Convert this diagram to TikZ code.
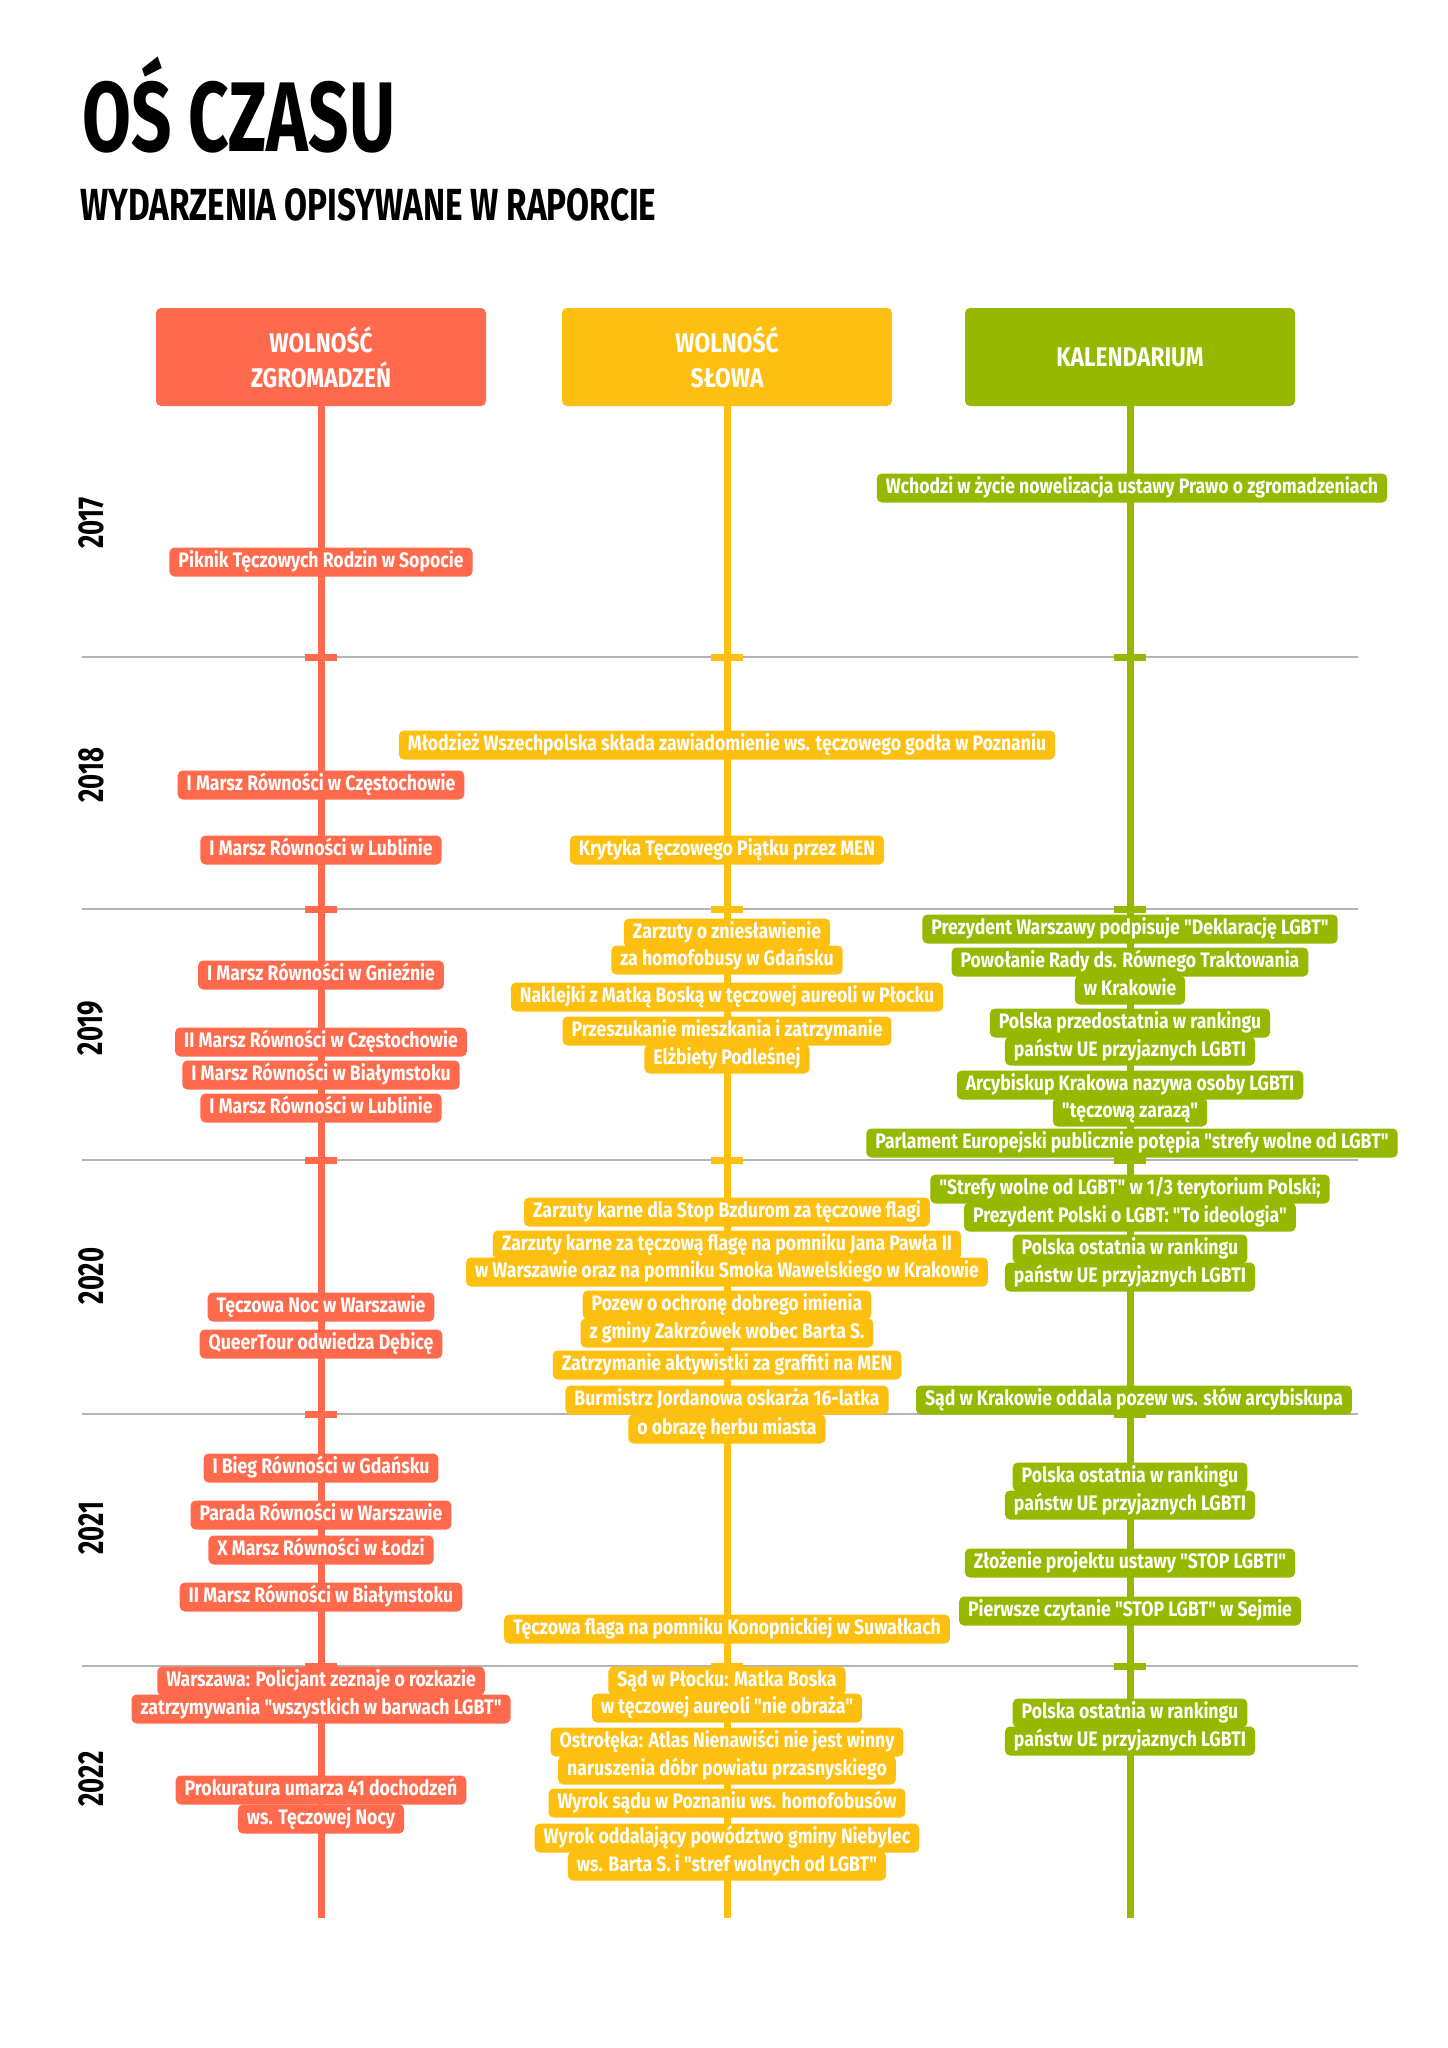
\documentclass[tikz,border=0pt]{standalone}
\usepackage{fontspec}
\newfontfamily\condf{Fira Sans}[FakeStretch=0.84]
\newfontfamily\titlef{Fira Sans}[FakeStretch=0.715]
\newfontfamily\subf{Fira Sans}[FakeStretch=0.74]
\definecolor{cred}{RGB}{255,106,77}
\definecolor{cyel}{RGB}{254,192,16}
\definecolor{cgrn}{RGB}{150,185,0}
\definecolor{csep}{RGB}{180,180,180}
\begin{document}
\begin{tikzpicture}[x=1pt,y=-1pt,
  ev/.style={fill=#1, text=white, rounded corners=5pt, inner xsep=9pt, inner ysep=0pt,
    minimum height=29pt, text height=14.5pt, text depth=4pt,
    font=\condf\bfseries\fontsize{21}{21}\selectfont},
  hdr/.style={fill=#1, text=white, rounded corners=5pt, minimum width=330pt, minimum height=98pt,
    align=center, inner sep=0pt, font=\condf\bfseries\fontsize{27}{35}\selectfont},
  tl/.style={draw=#1, line width=7pt},
  sepline/.style={draw=csep, line width=2pt},
  yr/.style={rotate=90, inner sep=0pt, font=\titlef\bfseries\fontsize{36}{36}\selectfont}]
\useasboundingbox[fill=white] (0,0) rectangle (1448,2048);

% titles
\node[anchor=base west, inner sep=0pt, font=\titlef\bfseries\fontsize{99}{99}\selectfont] (title) at (82,151) {OŚ CZASU};
\node[anchor=base west, inner sep=0pt, font=\subf\bfseries\fontsize{45}{45}\selectfont] (subtitle) at (80,220) {WYDARZENIA OPISYWANE W RAPORCIE};

% year separators
\foreach \yy in {657,909,1160,1414,1666} {
  \coordinate (sl\yy) at (82,\yy);
  \coordinate (sr\yy) at (1358,\yy);
  \draw[sepline] (sl\yy) -- (sr\yy);
}

% headers
\node[hdr=cred] (hr) at (321,357) {WOLNOŚĆ\\ZGROMADZEŃ};
\node[hdr=cyel] (hy) at (727,357) {WOLNOŚĆ\\SŁOWA};
\node[hdr=cgrn] (hg) at (1130,357) {KALENDARIUM};

% timeline axes
\coordinate (er) at (321,1918);
\coordinate (ey) at (727,1918);
\coordinate (eg) at (1130,1918);
\draw[tl=cred] (hr.south) -- (er);
\draw[tl=cyel] (hy.south) -- (ey);
\draw[tl=cgrn] (hg.south) -- (eg);

% ticks
\foreach \yy in {657,909,1160,1414,1666} {
  \fill[cred] (305,\yy-3.5) rectangle (337,\yy+3.5);
  \fill[cyel] (711,\yy-3.5) rectangle (743,\yy+3.5);
  \fill[cgrn] (1114,\yy-3.5) rectangle (1146,\yy+3.5);
}

% years
\node[yr] (y2017) at (91,523) {2017};
\node[yr] (y2018) at (91,775) {2018};
\node[yr] (y2019) at (91,1028) {2019};
\node[yr] (y2020) at (91,1276) {2020};
\node[yr] (y2021) at (91,1528) {2021};
\node[yr] (y2022) at (91,1779) {2022};

% red column
\node[ev=cred] (r1) at (321,562) {Piknik Tęczowych Rodzin w Sopocie};
\node[ev=cred] (r2) at (321,785) {I Marsz Równości w Częstochowie};
\node[ev=cred] (r3) at (321,850) {I Marsz Równości w Lublinie};
\node[ev=cred] (r4) at (321,975) {I Marsz Równości w Gnieźnie};
\node[ev=cred] (r5) at (321,1042) {II Marsz Równości w Częstochowie};
\node[ev=cred] (r6) at (321,1075) {I Marsz Równości w Białymstoku};
\node[ev=cred] (r7) at (321,1108) {I Marsz Równości w Lublinie};
\node[ev=cred] (r8) at (321,1307) {Tęczowa Noc w Warszawie};
\node[ev=cred] (r9) at (321,1344) {QueerTour odwiedza Dębicę};
\node[ev=cred] (r10) at (321,1468) {I Bieg Równości w Gdańsku};
\node[ev=cred] (r11) at (321,1515) {Parada Równości w Warszawie};
\node[ev=cred] (r12) at (321,1550) {X Marsz Równości w Łodzi};
\node[ev=cred] (r13) at (321,1597) {II Marsz Równości w Białymstoku};
\node[ev=cred] (r14a) at (321,1681) {Warszawa: Policjant zeznaje o rozkazie};
\node[ev=cred] (r14b) at (321,1709) {zatrzymywania "wszystkich w barwach LGBT"};
\node[ev=cred] (r15a) at (321,1790) {Prokuratura umarza 41 dochodzeń};
\node[ev=cred] (r15b) at (321,1819) {ws. Tęczowej Nocy};

% yellow column
\node[ev=cyel] (y1) at (727,745) {Młodzież Wszechpolska składa zawiadomienie ws. tęczowego godła w Poznaniu};
\node[ev=cyel] (y2) at (727,850) {Krytyka Tęczowego Piątku przez MEN};
\node[ev=cyel] (y3a) at (727,933) {Zarzuty o zniesławienie};
\node[ev=cyel] (y3b) at (727,960) {za homofobusy w Gdańsku};
\node[ev=cyel] (y4) at (727,997) {Naklejki z Matką Boską w tęczowej aureoli w Płocku};
\node[ev=cyel] (y5a) at (727,1031) {Przeszukanie mieszkania i zatrzymanie};
\node[ev=cyel] (y5b) at (727,1059) {Elżbiety Podleśnej};
\node[ev=cyel] (y6) at (727,1212) {Zarzuty karne dla Stop Bzdurom za tęczowe flagi};
\node[ev=cyel] (y7a) at (727,1245) {Zarzuty karne za tęczową flagę na pomniku Jana Pawła II};
\node[ev=cyel] (y7b) at (727,1272) {w Warszawie oraz na pomniku Smoka Wawelskiego w Krakowie};
\node[ev=cyel] (y8a) at (727,1305) {Pozew o ochronę dobrego imienia};
\node[ev=cyel] (y8b) at (727,1333) {z gminy Zakrzówek wobec Barta S.};
\node[ev=cyel] (y9) at (727,1365) {Zatrzymanie aktywistki za graffiti na MEN};
\node[ev=cyel] (y10a) at (727,1400) {Burmistrz Jordanowa oskarża 16-latka};
\node[ev=cyel] (y10b) at (727,1429) {o obrazę herbu miasta};
\node[ev=cyel] (y11) at (727,1629) {Tęczowa flaga na pomniku Konopnickiej w Suwałkach};
\node[ev=cyel] (y12a) at (727,1681) {Sąd w Płocku: Matka Boska};
\node[ev=cyel] (y12b) at (727,1708) {w tęczowej aureoli "nie obraża"};
\node[ev=cyel] (y13a) at (727,1742) {Ostrołęka: Atlas Nienawiści nie jest winny};
\node[ev=cyel] (y13b) at (727,1770) {naruszenia dóbr powiatu przasnyskiego};
\node[ev=cyel] (y14) at (727,1803) {Wyrok sądu w Poznaniu ws. homofobusów};
\node[ev=cyel] (y15a) at (727,1838) {Wyrok oddalający powództwo gminy Niebylec};
\node[ev=cyel] (y15b) at (727,1866) {ws. Barta S. i "stref wolnych od LGBT"};

% green column
\node[ev=cgrn] (g1) at (1132,488) {Wchodzi w życie nowelizacja ustawy Prawo o zgromadzeniach};
\node[ev=cgrn] (g2) at (1130,929) {Prezydent Warszawy podpisuje "Deklarację LGBT"};
\node[ev=cgrn] (g3a) at (1130,962) {Powołanie Rady ds. Równego Traktowania};
\node[ev=cgrn] (g3b) at (1130,990) {w Krakowie};
\node[ev=cgrn] (g4a) at (1130,1023) {Polska przedostatnia w rankingu};
\node[ev=cgrn] (g4b) at (1130,1051) {państw UE przyjaznych LGBTI};
\node[ev=cgrn] (g5a) at (1130,1085) {Arcybiskup Krakowa nazywa osoby LGBTI};
\node[ev=cgrn] (g5b) at (1130,1112) {"tęczową zarazą"};
\node[ev=cgrn] (g6) at (1132,1143) {Parlament Europejski publicznie potępia "strefy wolne od LGBT"};
\node[ev=cgrn] (g7a) at (1130,1189) {"Strefy wolne od LGBT" w 1/3 terytorium Polski;};
\node[ev=cgrn] (g7b) at (1130,1217) {Prezydent Polski o LGBT: "To ideologia"};
\node[ev=cgrn] (g8a) at (1130,1249) {Polska ostatnia w rankingu};
\node[ev=cgrn] (g8b) at (1130,1277) {państw UE przyjaznych LGBTI};
\node[ev=cgrn] (g9) at (1134,1400) {Sąd w Krakowie oddala pozew ws. słów arcybiskupa};
\node[ev=cgrn] (g10a) at (1130,1477) {Polska ostatnia w rankingu};
\node[ev=cgrn] (g10b) at (1130,1505) {państw UE przyjaznych LGBTI};
\node[ev=cgrn] (g11) at (1130,1563) {Złożenie projektu ustawy "STOP LGBTI"};
\node[ev=cgrn] (g12) at (1130,1611) {Pierwsze czytanie "STOP LGBT" w Sejmie};
\node[ev=cgrn] (g13a) at (1130,1713) {Polska ostatnia w rankingu};
\node[ev=cgrn] (g13b) at (1130,1741) {państw UE przyjaznych LGBTI};
\end{tikzpicture}
\end{document}
